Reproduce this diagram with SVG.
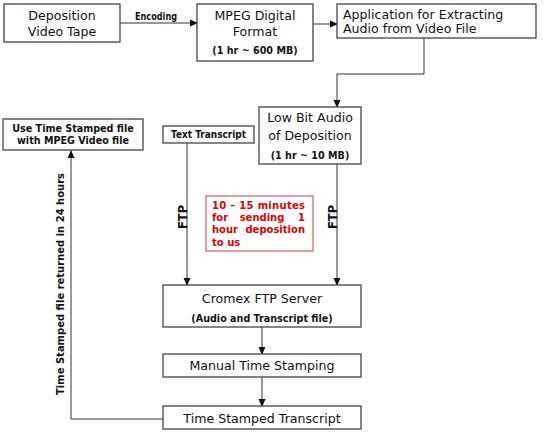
<svg xmlns="http://www.w3.org/2000/svg" width="545" height="437" viewBox="0 0 545 437">
<defs>
<marker id="ah" markerWidth="8" markerHeight="8" refX="7" refY="4" orient="auto" markerUnits="userSpaceOnUse">
<path d="M0,0.5 L8,4 L0,7.5 Z" fill="#111"/>
</marker>
<style>
.box{fill:#fff;stroke:#444;stroke-width:1.3}
.t{font-family:"DejaVu Sans",Verdana,sans-serif;font-size:12.6px;fill:#111;text-anchor:middle;dominant-baseline:central}
.s{font-family:"DejaVu Sans",Verdana,sans-serif;font-size:9.6px;font-weight:bold;fill:#111;text-anchor:middle;dominant-baseline:central}
.f{font-family:"DejaVu Sans",Verdana,sans-serif;font-size:11.5px;font-weight:bold;fill:#111;text-anchor:middle;dominant-baseline:central}
.r{font-family:"DejaVu Sans",Verdana,sans-serif;font-size:10px;font-weight:bold;fill:#e00000;dominant-baseline:central}
.c{fill:none;stroke:#333;stroke-width:1}
</style>
</defs>
<rect width="545" height="437" fill="#fff"/>
<g id="connectors">
<line class="c" x1="120" y1="23" x2="197" y2="23" marker-end="url(#ah)"/>
<line class="c" x1="313" y1="24" x2="337" y2="24" marker-end="url(#ah)"/>
<polyline class="c" points="424,38 424,74 337,74 337,107" marker-end="url(#ah)"/>
<line class="c" x1="187" y1="143" x2="187" y2="285" marker-end="url(#ah)"/>
<line class="c" x1="337" y1="164" x2="337" y2="285" marker-end="url(#ah)"/>
<line class="c" x1="262" y1="327" x2="262" y2="354" marker-end="url(#ah)"/>
<line class="c" x1="262" y1="377" x2="262" y2="406" marker-end="url(#ah)"/>
<polyline class="c" points="163,419 71,419 71,151" marker-end="url(#ah)"/>
<text class="s" x="156" y="16" textLength="42" lengthAdjust="spacingAndGlyphs">Encoding</text>
<text class="f" transform="translate(183,217) rotate(-90)">FTP</text>
<text class="f" transform="translate(333,217) rotate(-90)">FTP</text>
<text class="s" transform="translate(60,284) rotate(-90)" textLength="222" lengthAdjust="spacingAndGlyphs">Time Stamped file returned in 24 hours</text>
</g>
<g id="n1"><rect class="box" x="4" y="4" width="116" height="38"/>
<text class="t" x="62" y="15">Deposition</text><text class="t" x="62" y="31">Video Tape</text></g>
<g id="n2"><rect class="box" x="197" y="4" width="116" height="57"/>
<text class="t" x="255" y="15">MPEG Digital</text><text class="t" x="255" y="31">Format</text>
<text class="s" x="255" y="50">(1 hr ~ 600 MB)</text></g>
<g id="n3"><rect class="box" x="337" y="4" width="199" height="34"/>
<text class="t" x="343" y="14" style="text-anchor:start">Application for Extracting</text>
<text class="t" x="343" y="28" style="text-anchor:start">Audio from Video File</text></g>
<g id="n4"><rect class="box" x="259" y="107" width="102" height="57"/>
<text class="t" x="310" y="117">Low Bit Audio</text><text class="t" x="310" y="135">of Deposition</text>
<text class="s" x="310" y="155">(1 hr ~ 10 MB)</text></g>
<g id="n5"><rect class="box" x="3" y="119" width="140" height="31"/>
<text class="s" x="73" y="128">Use Time Stamped file</text><text class="s" x="73" y="140">with MPEG Video file</text></g>
<g id="n6"><rect class="box" x="163" y="126" width="91" height="17"/>
<text class="s" x="208.5" y="134.5" textLength="75" lengthAdjust="spacingAndGlyphs">Text Transcript</text></g>
<g id="n7"><rect x="206" y="196" width="107" height="55" fill="#fff" stroke="#e06666" stroke-width="1.3"/>
<text class="r" x="212" y="205" textLength="93" lengthAdjust="spacing">10 – 15 minutes</text>
<text class="r" x="212" y="217">for</text><text class="r" x="262" y="217" style="text-anchor:middle">sending</text><text class="r" x="305" y="217" style="text-anchor:end">1</text>
<text class="r" x="212" y="229">hour</text><text class="r" x="305" y="229" style="text-anchor:end">deposition</text>
<text class="r" x="212" y="242">to us</text></g>
<g id="n8"><rect class="box" x="163" y="285" width="198" height="42"/>
<text class="t" x="262" y="298">Cromex FTP Server</text><text class="s" x="262" y="318">(Audio and Transcript file)</text></g>
<g id="n9"><rect class="box" x="163" y="354" width="198" height="23"/>
<text class="t" x="262" y="365">Manual Time Stamping</text></g>
<g id="n10"><rect class="box" x="163" y="406" width="198" height="23"/>
<text class="t" x="262" y="418">Time Stamped Transcript</text></g>
</svg>
